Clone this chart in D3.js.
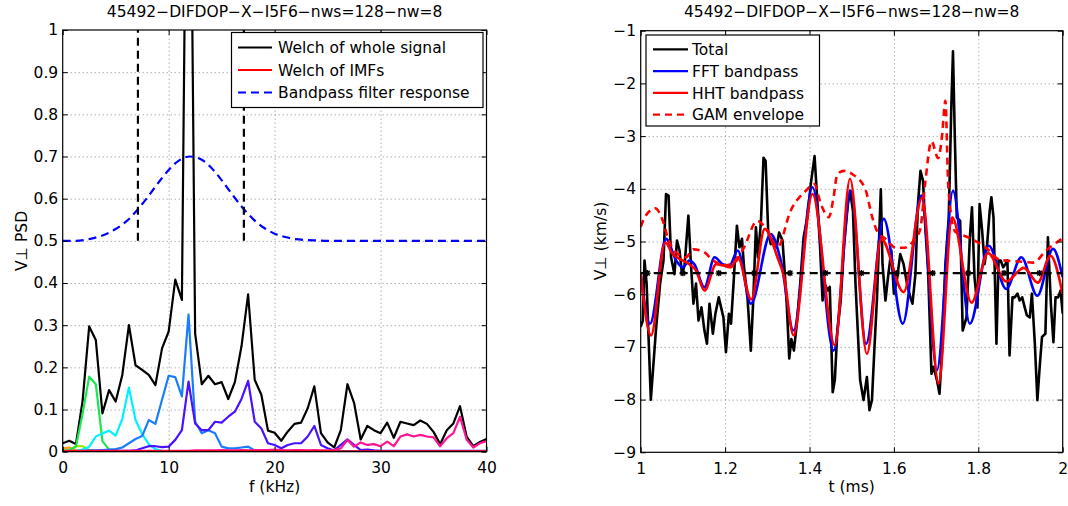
<!DOCTYPE html>
<html><head><meta charset="utf-8">
<script src="https://cdn.jsdelivr.net/npm/d3@7"></script>
<style>
body{margin:0;background:#fff;}
svg text{font-family:"DejaVu Sans",sans-serif;font-size:15.5px;fill:#000;}
</style></head><body>
<svg id="c" width="1068" height="506"></svg>
<script>
// ---------------- DATA ----------------
const titleText = "45492\u2212DIFDOP\u2212X\u2212I5F6\u2212nws=128\u2212nw=8";

// Left panel: Welch spectra
const psdFreq = [0,0.625,1.25,1.875,2.5,3.125,3.75,4.375,5,5.625,6.25,6.875,7.5,8.125,8.75,9.375,10,10.625,11.25,11.875,12.5,13.125,13.75,14.375,15,15.625,16.25,16.875,17.5,18.125,18.75,19.375,20,20.625,21.25,21.875,22.5,23.125,23.75,24.375,25,25.625,26.25,26.875,27.5,28.125,28.75,29.375,30,30.625,31.25,31.875,32.5,33.125,33.75,34.375,35,35.625,36.25,36.875,37.5,38.125,38.75,39.375,40];
const welchWhole = [0.020,0.026,0.018,0.120,0.297,0.265,0.091,0.146,0.119,0.182,
 0.300,0.205,0.194,0.182,0.158,0.245,0.285,0.408,0.360,2.000,
 0.280,0.160,0.180,0.160,0.165,0.125,0.165,0.250,0.373,0.170,
 0.135,0.050,0.045,0.026,0.048,0.066,0.069,0.103,0.155,0.044,
 0.022,0.010,0.051,0.160,0.116,0.029,0.061,0.051,0.044,0.069,
 0.033,0.071,0.067,0.063,0.074,0.066,0.047,0.018,0.051,0.067,
 0.108,0.036,0.013,0.023,0.030];
const imfPink = [0.002,0.002,0.002,0.002,0.002,0.002,0.002,0.002,0.002,0.002,
 0.002,0.002,0.002,0.002,0.002,0.002,0.002,0.002,0.002,0.002,
 0.003,0.003,0.003,0.003,0.004,0.003,0.003,0.004,0.003,0.004,
 0.004,0.004,0.005,0.004,0.003,0.004,0.004,0.003,0.004,0.003,
 0.003,0.004,0.008,0.028,0.012,0.022,0.016,0.018,0.013,0.024,
 0.013,0.036,0.041,0.036,0.040,0.036,0.034,0.013,0.032,0.044,
 0.083,0.029,0.010,0.020,0.025];
const imfViolet = [0.001,0.001,0.001,0.001,0.002,0.002,0.002,0.002,0.002,0.002,
 0.002,0.003,0.008,0.013,0.013,0.011,0.012,0.028,0.051,0.166,
 0.067,0.051,0.051,0.071,0.069,0.083,0.095,0.125,0.168,0.071,
 0.055,0.020,0.016,0.008,0.016,0.020,0.020,0.036,0.061,0.016,
 0.008,0.003,0.016,0.029,0.016,0.004,0.005,0.003,0.002,0.002,
 0.002,0.002,0.002,0.002,0.002,0.002,0.002,0.002,0.002,0.002,
 0.002,0.002,0.002,0.002,0.002];
const imfAzure = [0.001,0.001,0.001,0.002,0.003,0.003,0.004,0.005,0.006,0.010,
 0.020,0.030,0.037,0.075,0.066,0.123,0.180,0.177,0.131,0.325,
 0.071,0.044,0.051,0.044,0.012,0.008,0.008,0.010,0.012,0.003,
 0.002,0.001,0.001,0.001,0.001,0.001,0.001,0.001,0.001,0.001,
 0.001,0.001,0.001,0.001,0.001,0.001,0.001,0.001,0.001,0.001,
 0.001,0.001,0.001,0.001,0.001,0.001,0.001,0.001,0.001,0.001,
 0.001,0.001,0.001,0.001,0.001];
const imfCyan = [0.000,0.001,0.002,0.005,0.012,0.036,0.043,0.050,0.038,0.078,
 0.152,0.075,0.042,0.018,0.006,0.002,0.001,0.001,0.001,0.001,
 0.001,0.001,0.001,0.001,0.001,0.001,0.001,0.001,0.001,0.001,
 0.001,0.001,0.001,0.001,0.001,0.001,0.001,0.001,0.001,0.001,
 0.001,0.001,0.001,0.001,0.001,0.001,0.001,0.001,0.001,0.001,
 0.001,0.001,0.001,0.001,0.001,0.001,0.001,0.001,0.001,0.001,
 0.001,0.001,0.001,0.001,0.001];
const imfGreen = [0.002,0.004,0.012,0.090,0.178,0.160,0.025,0.005,0.002,0.001,
 0.001,0.001,0.001,0.001,0.001,0.001,0.001,0.001,0.001,0.001,
 0.001,0.001,0.001,0.001,0.001,0.001,0.001,0.001,0.001,0.001,
 0.001,0.001,0.001,0.001,0.001,0.001,0.001,0.001,0.001,0.001,
 0.001,0.001,0.001,0.001,0.001,0.001,0.001,0.001,0.001,0.001,
 0.001,0.001,0.001,0.001,0.001,0.001,0.001,0.001,0.001,0.001,
 0.001,0.001,0.001,0.001,0.001];
const imfYellow = [0.001,0.004,0.013,0.013,0.004,0.001,0.001,0.000,0.000,0.000,
 0.000,0.000,0.000,0.000,0.000,0.000,0.000,0.000,0.000,0.000,
 0.000,0.000,0.000,0.000,0.000,0.000,0.000,0.000,0.000,0.000,
 0.000,0.000,0.000,0.000,0.000,0.000,0.000,0.000,0.000,0.000,
 0.000,0.000,0.000,0.000,0.000,0.000,0.000,0.000,0.000,0.000,
 0.000,0.000,0.000,0.000,0.000,0.000,0.000,0.000,0.000,0.000,
 0.000,0.000,0.000,0.000,0.000];
const imfOrange = [0.008,0.010,0.004,0.001,0.000,0.000,0.000,0.000,0.000,0.000,
 0.000,0.000,0.000,0.000,0.000,0.000,0.000,0.000,0.000,0.000,
 0.000,0.000,0.000,0.000,0.000,0.000,0.000,0.000,0.000,0.000,
 0.000,0.000,0.000,0.000,0.000,0.000,0.000,0.000,0.000,0.000,
 0.000,0.000,0.000,0.000,0.000,0.000,0.000,0.000,0.000,0.000,
 0.000,0.000,0.000,0.000,0.000,0.000,0.000,0.000,0.000,0.000,
 0.000,0.000,0.000,0.000,0.000];
const imfRed = [0.001,0.001,0.001,0.001,0.001,0.001,0.001,0.001,0.001,0.001,
 0.001,0.001,0.001,0.001,0.001,0.001,0.001,0.001,0.001,0.001,
 0.001,0.001,0.001,0.001,0.001,0.001,0.001,0.001,0.001,0.001,
 0.001,0.001,0.001,0.001,0.001,0.001,0.001,0.001,0.001,0.001,
 0.001,0.001,0.001,0.001,0.001,0.001,0.001,0.001,0.001,0.001,
 0.001,0.001,0.001,0.001,0.001,0.001,0.001,0.001,0.001,0.001,
 0.001,0.001,0.001,0.001,0.001];
const imfSeries = [
  {vals: imfOrange, color: "#ff9a00"},
  {vals: imfYellow, color: "#a6e600"},
  {vals: imfGreen,  color: "#17e84f"},
  {vals: imfCyan,   color: "#00f2ff"},
  {vals: imfAzure,  color: "#1a7dff"},
  {vals: imfViolet, color: "#4a12ff"},
  {vals: imfPink,   color: "#ff1493"},
  {vals: imfRed,    color: "#ff0000"}
];
const bandFreq = [0,1,2,3,4,5,6,7,8,9,10,11,12,13,14,15,16,17,18,19,20,21,22,23,24,25,26,27,28,29,30,31,32,33,34,35,36,37,38,39,40];
const bandResp = [0.500,0.500,0.502,0.507,0.515,0.528,0.546,0.572,0.603,0.637,0.668,0.691,0.700,0.694,0.674,0.644,0.610,0.578,0.551,0.531,0.517,0.509,0.504,0.502,0.501,0.500,0.500,0.500,0.500,0.500,0.500,0.500,0.500,0.500,0.500,0.500,0.500,0.500,0.500,0.500,0.500];
const cutoffFreqs = [7.1, 17.1];
const cutoffSpan = [0.5, 1.0];
const xTicksL = [0,10,20,30,40];
const xTickLabelsL = ["0","10","20","30","40"];
const yTicksL = [0,0.1,0.2,0.3,0.4,0.5,0.6,0.7,0.8,0.9,1];
const yTickLabelsL = ["0","0.1","0.2","0.3","0.4","0.5","0.6","0.7","0.8","0.9","1"];
const legendL = ["Welch of whole signal","Welch of IMFs","Bandpass filter response"];

// Right panel: time traces
const totalT = [1.000,1.005,1.009,1.014,1.024,1.036,1.046,1.054,1.060,1.066,1.072,1.080,1.086,1.092,1.098,1.104,1.113,1.119,1.125,1.131,1.137,1.144,1.151,1.157,1.163,1.171,1.177,1.185,1.196,1.202,1.209,1.214,1.220,1.228,1.234,1.240,1.245,1.253,1.261,1.267,1.273,1.278,1.285,1.291,1.296,1.302,1.308,1.314,1.322,1.328,1.336,1.341,1.346,1.352,1.357,1.363,1.370,1.378,1.386,1.395,1.403,1.412,1.419,1.425,1.431,1.436,1.443,1.448,1.455,1.460,1.466,1.474,1.482,1.491,1.496,1.503,1.509,1.520,1.528,1.536,1.542,1.548,1.554,1.560,1.565,1.569,1.573,1.580,1.586,1.594,1.600,1.607,1.615,1.623,1.631,1.639,1.644,1.651,1.657,1.663,1.669,1.674,1.681,1.689,1.694,1.702,1.708,1.714,1.722,1.730,1.736,1.740,1.744,1.749,1.757,1.763,1.772,1.780,1.785,1.791,1.798,1.803,1.809,1.815,1.821,1.827,1.831,1.836,1.843,1.848,1.853,1.859,1.864,1.869,1.874,1.881,1.886,1.893,1.898,1.904,1.910,1.915,1.922,1.927,1.934,1.940,1.946,1.951,1.959,1.965,1.972,1.978,1.983,1.989,1.995,2.000];
const totalV = [-6.62,-6.50,-5.36,-5.80,-8.00,-6.69,-5.80,-5.36,-4.10,-4.13,-5.30,-5.62,-4.98,-5.17,-5.62,-5.45,-4.51,-5.43,-6.18,-5.80,-6.50,-6.25,-6.69,-6.94,-6.18,-6.75,-6.37,-6.06,-6.44,-7.10,-6.37,-6.56,-5.80,-4.70,-5.11,-4.95,-5.50,-6.06,-7.07,-6.06,-4.73,-5.30,-4.61,-3.41,-3.47,-4.79,-5.05,-4.95,-5.11,-4.83,-4.98,-5.55,-6.18,-7.22,-6.85,-7.07,-6.56,-5.80,-4.92,-4.54,-3.91,-3.38,-4.29,-5.11,-6.12,-5.80,-5.93,-5.86,-7.86,-7.63,-6.69,-6.12,-5.05,-4.29,-4.04,-4.42,-5.80,-7.63,-8.01,-7.57,-8.20,-8.01,-7.00,-6.06,-4.92,-4.01,-5.43,-6.12,-5.68,-5.17,-5.99,-5.74,-5.24,-5.43,-5.80,-6.06,-6.18,-5.62,-4.29,-3.66,-3.85,-4.67,-5.55,-7.51,-7.38,-7.63,-7.89,-7.07,-5.43,-4.54,-2.46,-1.39,-2.90,-4.54,-4.61,-6.69,-6.44,-4.92,-4.35,-5.68,-6.25,-4.29,-4.79,-5.43,-5.05,-4.42,-4.16,-4.54,-6.94,-5.36,-5.36,-5.49,-5.43,-5.36,-7.16,-6.06,-6.06,-5.99,-6.12,-6.06,-6.25,-6.40,-6.44,-5.99,-6.94,-8.01,-7.32,-6.81,-6.75,-4.92,-6.18,-6.91,-6.06,-6.06,-5.93,-6.37];
const fftT = [1.000,1.022,1.060,1.084,1.100,1.115,1.127,1.151,1.175,1.194,1.210,1.230,1.261,1.308,1.332,1.362,1.407,1.457,1.498,1.534,1.576,1.621,1.665,1.702,1.740,1.780,1.825,1.866,1.902,1.940,1.977,2.000];
const fftV = [-5.62,-6.56,-4.95,-5.36,-5.49,-5.36,-5.43,-5.87,-5.30,-5.43,-5.46,-5.17,-6.18,-4.86,-5.36,-6.69,-3.97,-7.07,-4.04,-6.94,-4.57,-6.56,-4.13,-7.44,-4.04,-6.56,-5.08,-5.90,-5.30,-6.03,-5.14,-5.68];
const hhtT = [1.000,1.0245,1.058,1.076,1.092,1.115,1.131,1.151,1.179,1.198,1.214,1.230,1.262,1.294,1.324,1.340,1.362,1.407,1.460,1.496,1.536,1.570,1.623,1.667,1.706,1.738,1.784,1.823,1.866,1.908,1.941,1.971,2.000];
const hhtV = [-5.62,-6.78,-5.02,-5.24,-5.33,-5.43,-5.55,-5.93,-5.43,-5.46,-5.49,-5.30,-6.10,-4.76,-5.30,-5.68,-6.78,-4.10,-6.97,-3.81,-7.13,-4.95,-5.96,-4.17,-7.70,-4.54,-6.16,-5.22,-5.76,-5.50,-5.78,-5.27,-6.00];
const gamT = [1.000,1.009,1.034,1.053,1.065,1.085,1.107,1.125,1.150,1.170,1.200,1.225,1.245,1.276,1.300,1.324,1.355,1.391,1.411,1.427,1.446,1.457,1.466,1.482,1.501,1.532,1.548,1.560,1.580,1.605,1.625,1.645,1.662,1.674,1.689,1.705,1.714,1.722,1.729,1.745,1.773,1.820,1.851,1.899,1.930,1.962,2.000];
const gamV = [-4.72,-4.55,-4.37,-4.62,-4.95,-5.22,-5.30,-5.15,-5.20,-5.35,-5.45,-5.38,-5.11,-4.61,-4.79,-5.11,-4.42,-4.04,-3.91,-4.29,-4.54,-4.16,-3.72,-3.66,-3.72,-4.00,-4.52,-4.80,-4.95,-5.12,-5.12,-5.00,-4.78,-3.90,-3.10,-3.42,-3.00,-2.33,-3.96,-4.81,-4.91,-5.13,-5.35,-5.38,-5.40,-5.16,-4.94];
const meanLevel = -5.6;
const markerT = [1.016,1.100,1.185,1.269,1.354,1.438,1.523,1.607,1.692,1.776,1.861,1.945];
const xTicksR = [1,1.2,1.4,1.6,1.8,2];
const xTickLabelsR = ["1","1.2","1.4","1.6","1.8","2"];
const yTicksR = [-9,-8,-7,-6,-5,-4,-3,-2,-1];
const yTickLabelsR = ["\u22129","\u22128","\u22127","\u22126","\u22125","\u22124","\u22123","\u22122","\u22121"];
const legendR = ["Total","FFT bandpass","HHT bandpass","GAM envelope"];

// ---------------- DRAW ----------------
const svg = d3.select("#c");
const L = {x0:62.7, x1:486.5, y0:30, y1:451.7};
const R = {x0:640.7, x1:1062.7, y0:30.7, y1:452.3};
const xL = d3.scaleLinear().domain([0,40]).range([L.x0,L.x1]);
const yL = d3.scaleLinear().domain([0,1]).range([L.y1,L.y0]);
const xR = d3.scaleLinear().domain([1,2]).range([R.x0,R.x1]);
const yR = d3.scaleLinear().domain([-9,-1]).range([R.y1,R.y0]);

const defs = svg.append("defs");
function clip(id, b){
  defs.append("clipPath").attr("id",id).append("rect")
    .attr("x",b.x0).attr("y",b.y0).attr("width",b.x1-b.x0).attr("height",b.y1-b.y0);
}
clip("clipL", L); clip("clipR", R);

function frame(b, x, y, xt, xl, yt, yl){
  const g = svg.append("g");
  const h = b.y1-b.y0, w = b.x1-b.x0;
  const gridStyle = s => { s.select(".domain").remove();
    s.selectAll(".tick line").attr("stroke","#8a8a8a").attr("stroke-width",1).attr("stroke-dasharray","1,3"); };
  g.append("g").attr("transform",`translate(0,${b.y1})`)
    .call(d3.axisBottom(x).tickValues(xt.slice(1,-1)).tickSize(-h).tickFormat("")).call(gridStyle);
  g.append("g").attr("transform",`translate(${b.x0},0)`)
    .call(d3.axisLeft(y).tickValues(yt.slice(1,-1)).tickSize(-w).tickFormat("")).call(gridStyle);
  return g;
}
function axesOver(b, x, y, xt, xl, yt, yl){
  const g = svg.append("g");
  const tickStyle = s => { s.select(".domain").remove();
    s.selectAll(".tick line").attr("stroke","#000").attr("stroke-width",1);
    s.selectAll(".tick text").attr("font-family",null).attr("font-size",null); };
  g.append("g").attr("transform",`translate(0,${b.y1})`)
    .call(d3.axisBottom(x).tickValues(xt).tickSize(-5).tickSizeOuter(0).tickPadding(10.5).tickFormat((d,i)=>xl[i])).call(tickStyle);
  g.append("g").attr("transform",`translate(0,${b.y0})`)
    .call(d3.axisTop(x).tickValues(xt).tickSize(-5).tickSizeOuter(0).tickFormat("")).call(tickStyle);
  g.append("g").attr("transform",`translate(${b.x0},0)`)
    .call(d3.axisLeft(y).tickValues(yt).tickSize(-5).tickSizeOuter(0).tickPadding(4.5).tickFormat((d,i)=>yl[i])).call(tickStyle);
  g.append("g").attr("transform",`translate(${b.x1},0)`)
    .call(d3.axisRight(y).tickValues(yt).tickSize(-5).tickSizeOuter(0).tickFormat("")).call(tickStyle);
  g.append("rect").attr("x",b.x0).attr("y",b.y0).attr("width",b.x1-b.x0).attr("height",b.y1-b.y0)
    .attr("fill","none").attr("stroke","#000").attr("stroke-width",1.2);
  g.selectAll(".tick text").style("font-size","15.5px");
}

// ---- Left panel ----
frame(L, xL, yL, xTicksL, xTickLabelsL, yTicksL, yTickLabelsL);
const gl = svg.append("g").attr("clip-path","url(#clipL)");
const lineL = d3.line().x((d,i)=>xL(psdFreq[i])).y(d=>yL(d));
gl.append("path").datum(welchWhole).attr("d",lineL).attr("fill","none").attr("stroke","#000").attr("stroke-width",2.2).attr("stroke-linejoin","round");
imfSeries.forEach(s=>{
  gl.append("path").datum(s.vals).attr("d",lineL).attr("fill","none").attr("stroke",s.color).attr("stroke-width",2.2).attr("stroke-linejoin","round");
});
const bandLine = d3.line().x((d,i)=>xL(bandFreq[i])).y(d=>yL(d)).curve(d3.curveMonotoneX);
gl.append("path").datum(bandResp).attr("d",bandLine).attr("fill","none").attr("stroke","#0000ff").attr("stroke-width",2.2).attr("stroke-dasharray","8,5");
cutoffFreqs.forEach(f=>{
  gl.append("line").attr("x1",xL(f)).attr("x2",xL(f)).attr("y1",yL(cutoffSpan[0])).attr("y2",yL(cutoffSpan[1]))
    .attr("stroke","#000").attr("stroke-width",2.2).attr("stroke-dasharray","8,5");
});
axesOver(L, xL, yL, xTicksL, xTickLabelsL, yTicksL, yTickLabelsL);

// legend left
const lgL = svg.append("g");
lgL.append("rect").attr("x",231.5).attr("y",32.5).attr("width",251.5).attr("height",75).attr("fill","#fff").attr("stroke","#000").attr("stroke-width",1.2);
const legLStyles = [{c:"#000",d:null},{c:"#ff0000",d:null},{c:"#0000ff",d:"8,5"}];
legendL.forEach((t,i)=>{
  const cy = 47.5 + i*22.5;
  lgL.append("line").attr("x1",238).attr("x2",272).attr("y1",cy).attr("y2",cy).attr("stroke",legLStyles[i].c).attr("stroke-width",2.2).attr("stroke-dasharray",legLStyles[i].d);
  lgL.append("text").attr("x",278).attr("y",cy+5.6).text(t);
});

svg.append("text").attr("x",(L.x0+L.x1)/2).attr("y",17).attr("text-anchor","middle").text(titleText);
svg.append("text").attr("x",(L.x0+L.x1)/2).attr("y",492).attr("text-anchor","middle").text("f (kHz)");
svg.append("text").attr("transform","translate(27,241) rotate(-90)").attr("text-anchor","middle").text("V\u22a5 PSD");

// ---- Right panel ----
frame(R, xR, yR, xTicksR, xTickLabelsR, yTicksR, yTickLabelsR);
const gr = svg.append("g").attr("clip-path","url(#clipR)");
const lineTotal = d3.line().x((d,i)=>xR(totalT[i])).y(d=>yR(d));
gr.append("path").datum(totalV).attr("d",lineTotal).attr("fill","none").attr("stroke","#000").attr("stroke-width",2.6).attr("stroke-linejoin","round");
const lineFFT = d3.line().x((d,i)=>xR(fftT[i])).y(d=>yR(d)).curve(d3.curveMonotoneX);
gr.append("path").datum(fftV).attr("d",lineFFT).attr("fill","none").attr("stroke","#0000ff").attr("stroke-width",2.6);
const lineHHT = d3.line().x((d,i)=>xR(hhtT[i])).y(d=>yR(d)).curve(d3.curveMonotoneX);
gr.append("path").datum(hhtV).attr("d",lineHHT).attr("fill","none").attr("stroke","#ff0000").attr("stroke-width",2.6);
const lineGAM = d3.line().x((d,i)=>xR(gamT[i])).y(d=>yR(d)).curve(d3.curveMonotoneX);
gr.append("path").datum(gamV).attr("d",lineGAM).attr("fill","none").attr("stroke","#ff0000").attr("stroke-width",2.6).attr("stroke-dasharray","7,5");
gr.append("line").attr("x1",xR(1)).attr("x2",xR(2)).attr("y1",yR(meanLevel)).attr("y2",yR(meanLevel))
  .attr("stroke","#000").attr("stroke-width",2.4).attr("stroke-dasharray","8,5");
const star = "M-3.2,0H3.2M0,-3.2V3.2M-2.3,-2.3L2.3,2.3M-2.3,2.3L2.3,-2.3";
gr.selectAll("path.mk").data(markerT).enter().append("path").attr("class","mk")
  .attr("transform",d=>`translate(${xR(d)},${yR(meanLevel)})`).attr("d",star).attr("stroke","#000").attr("stroke-width",1.4).attr("fill","none");
axesOver(R, xR, yR, xTicksR, xTickLabelsR, yTicksR, yTickLabelsR);

const lgR = svg.append("g");
lgR.append("rect").attr("x",646).attr("y",35).attr("width",173.5).attr("height",91).attr("fill","#fff").attr("stroke","#000").attr("stroke-width",1.2);
const legRStyles = [{c:"#000",d:null},{c:"#0000ff",d:null},{c:"#ff0000",d:null},{c:"#ff0000",d:"7,5"}];
legendR.forEach((t,i)=>{
  const cy = 49.3 + i*21.8;
  lgR.append("line").attr("x1",653).attr("x2",688).attr("y1",cy).attr("y2",cy).attr("stroke",legRStyles[i].c).attr("stroke-width",2.2).attr("stroke-dasharray",legRStyles[i].d);
  lgR.append("text").attr("x",692).attr("y",cy+5.6).text(t);
});

svg.append("text").attr("x",(R.x0+R.x1)/2).attr("y",17).attr("text-anchor","middle").text(titleText);
svg.append("text").attr("x",(R.x0+R.x1)/2).attr("y",492).attr("text-anchor","middle").text("t (ms)");
svg.append("text").attr("transform","translate(606,241) rotate(-90)").attr("text-anchor","middle").text("V\u22a5 (km/s)");
</script>
</body></html>
